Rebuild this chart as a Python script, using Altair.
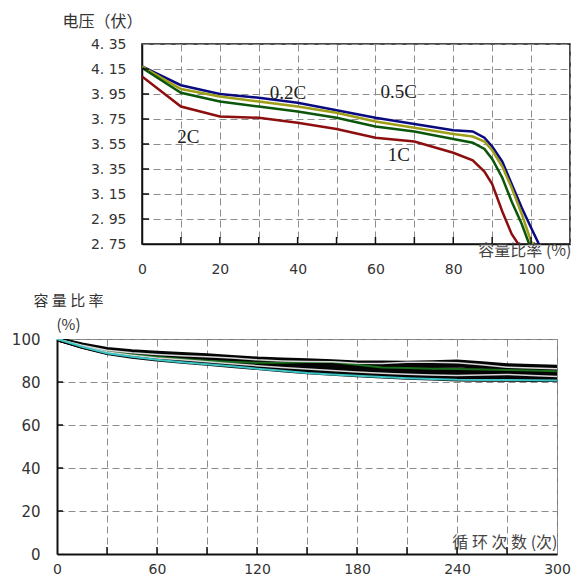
import altair as alt
import pandas as pd

# ---------------- discharge curves (top panel) ----------------
rate_names = ["0.2C", "0.5C", "1C", "2C"]
rate_colors = ["#0a0a80", "#9e9e18", "#0b560b", "#8c0e0e"]

cap_02C = [0, 10, 20, 30, 40, 50, 60, 70, 80, 85, 88, 90, 92.6, 95, 97.6, 100, 102]
volt_02C = [4.17, 4.02, 3.95, 3.92, 3.88, 3.82, 3.76, 3.71, 3.66, 3.65, 3.60, 3.53, 3.41, 3.23, 3.04, 2.88, 2.75]
cap_05C = [0, 10, 20, 30, 40, 50, 60, 70, 80, 85, 88, 90, 92.6, 95, 97.6, 100, 100.5]
volt_05C = [4.17, 3.99, 3.93, 3.89, 3.85, 3.80, 3.73, 3.68, 3.63, 3.61, 3.57, 3.50, 3.37, 3.20, 2.99, 2.77, 2.75]
cap_1C = [0, 10, 20, 30, 40, 50, 60, 70, 80, 85, 88, 90, 92.6, 95, 97.6, 99.5]
volt_1C = [4.16, 3.96, 3.89, 3.85, 3.81, 3.76, 3.69, 3.65, 3.59, 3.56, 3.51, 3.43, 3.28, 3.09, 2.91, 2.75]
cap_2C = [0, 5, 10, 20, 30, 40, 50, 60, 70, 80, 85, 88, 90, 92.6, 95, 96.7]
volt_2C = [4.09, 3.97, 3.85, 3.77, 3.76, 3.72, 3.67, 3.60, 3.57, 3.48, 3.42, 3.33, 3.23, 3.01, 2.83, 2.75]

label_text = ["0.2C", "0.5C", "2C", "1C"]
label_cap = [37.5, 66.0, 11.9, 66.0]
label_volt = [3.96, 3.97, 3.61, 3.46]

cap_ticks = list(range(0, 111, 10))
volt_ticks = [2.75, 2.95, 3.15, 3.35, 3.55, 3.75, 3.95, 4.15, 4.35]

# ---------------- cycle life (bottom panel) ----------------
cycles = [0, 15, 30, 45, 60, 75, 90, 105, 120, 135, 150, 165, 180, 195, 210, 225, 240, 255, 270, 285, 300]
cell_names = ["A", "B", "C", "D", "E", "F", "G", "H", "I", "J"]
cell_style = ["black", "black", "black", "black", "black", "black", "green", "light", "light", "cyan"]
cell_A = [100, 97.3, 95.2, 94.2, 93.5, 92.9, 92.3, 91.5, 90.8, 90.4, 90.0, 89.5, 89.0, 88.9, 88.8, 89.1, 89.4, 88.6, 87.7, 87.3, 87.0]
cell_B = [100, 97.0, 94.7, 93.5, 92.6, 91.9, 91.2, 90.5, 89.8, 89.2, 88.6, 88.2, 87.9, 87.7, 87.5, 87.6, 87.8, 87.2, 86.5, 86.0, 85.8]
cell_C = [100, 96.9, 94.4, 93.0, 92.0, 91.2, 90.4, 89.6, 88.8, 88.0, 87.3, 86.9, 86.6, 86.3, 86.0, 85.8, 85.6, 85.3, 85.0, 84.7, 84.4]
cell_D = [100, 96.7, 94.1, 92.6, 91.5, 90.6, 89.7, 88.8, 88.0, 87.1, 86.3, 85.8, 85.3, 85.0, 84.6, 84.3, 84.0, 83.8, 83.6, 83.4, 83.3]
cell_E = [100, 96.6, 93.8, 92.2, 91.0, 90.0, 89.0, 88.0, 87.2, 86.2, 85.4, 84.8, 84.2, 83.8, 83.4, 83.0, 82.6, 82.6, 82.5, 82.5, 82.5]
cell_F = [100, 96.5, 93.6, 91.9, 90.6, 89.5, 88.6, 87.6, 86.6, 85.6, 84.6, 83.9, 83.3, 82.7, 82.1, 81.7, 81.3, 81.2, 81.2, 81.1, 81.0]
cell_G = [100, 96.8, 94.2, 92.7, 91.6, 90.7, 89.9, 89.3, 88.9, 88.9, 89.3, 89.3, 88.0, 86.8, 86.5, 86.2, 86.0, 85.8, 85.6, 85.3, 85.0]
cell_H = [100, 97.1, 94.8, 93.6, 92.8, 92.2, 91.8, 91.2, 90.3, 89.8, 89.5, 89.4, 88.7, 88.6, 89.2, 89.2, 88.9, 88.0, 86.9, 86.5, 86.2]
cell_I = [100, 96.7, 94.0, 92.4, 91.2, 90.3, 89.4, 88.5, 87.6, 86.8, 86.0, 85.3, 84.6, 84.1, 83.6, 83.3, 83.0, 83.3, 83.5, 83.0, 82.5]
cell_J = [100, 96.4, 93.4, 91.7, 90.3, 89.2, 88.3, 87.3, 86.2, 85.2, 84.2, 83.5, 82.9, 82.3, 81.8, 81.4, 81.0, 80.9, 80.9, 80.8, 80.7]

cycle_ticks = list(range(0, 301, 30))
ratio_ticks = [0, 20, 40, 60, 80, 100]

# ---------------- tables ----------------
rows = []
for name, xs, vs in zip(rate_names, [cap_02C, cap_05C, cap_1C, cap_2C],
                        [volt_02C, volt_05C, volt_1C, volt_2C]):
    for i, (x, v) in enumerate(zip(xs, vs)):
        rows.append({"rate": name, "cap": x, "volt": v, "i": i})
top_df = pd.DataFrame(rows)
lab_df = pd.DataFrame({"txt": label_text, "cap": label_cap, "volt": label_volt})

rows = []
all_cells = [cell_A, cell_B, cell_C, cell_D, cell_E, cell_F, cell_G, cell_H, cell_I, cell_J]
for name, st, vals in zip(cell_names, cell_style, all_cells):
    for i, (c, v) in enumerate(zip(cycles, vals)):
        rows.append({"cell": name, "style": st, "cycle": c, "ratio": v, "i": i})
bot_df = pd.DataFrame(rows)

CJK = "Noto Sans CJK SC"
LBL = "DejaVu Sans"
WT, HT = 428, 200
WB, HB = 500, 215

x_top = alt.X("cap:Q", scale=alt.Scale(domain=[0, 110], nice=False, zero=False),
              axis=alt.Axis(values=cap_ticks, labelFlush=False,
                            labelExpr="datum.value % 20 == 0 && datum.value <= 100 ? datum.label : ''",
                            labelPadding=18, labelFontSize=14,
                            title="容量比率 (%)", titleFont=CJK, titleFontSize=16,
                            titleAlign="right", titleX=WT + 1, titleY=14,
                            titleBaseline="bottom", titleColor="#444"))
y_top = alt.Y("volt:Q", scale=alt.Scale(domain=[2.75, 4.35], nice=False, zero=False),
              axis=alt.Axis(values=volt_ticks,
                            labelExpr="replace(format(datum.value, '.2f'), '.', '. ')",
                            labelPadding=16, labelFontSize=14,
                            title="电压（伏）", titleFont=CJK, titleFontSize=16,
                            titleAngle=0, titleAlign="left", titleBaseline="top",
                            titleX=-80, titleY=-31, titleColor="#333"))

top_lines = alt.Chart(top_df).mark_line(strokeWidth=2.5, clip=True).encode(
    x=x_top, y=y_top,
    color=alt.Color("rate:N", scale=alt.Scale(domain=rate_names, range=rate_colors), legend=None),
    order="i:Q")
top_labels = alt.Chart(lab_df).mark_text(font="Liberation Serif", fontSize=19, color="#222",
                                         align="center", baseline="middle").encode(
    x=x_top, y=y_top, text="txt:N")
top_xt = alt.Chart(pd.DataFrame({"cap": cap_ticks[1:-1]})).mark_rule(color="#111", strokeWidth=1.5).encode(
    x=x_top, y=alt.value(HT), y2=alt.value(HT - 7))
top_yt = alt.Chart(pd.DataFrame({"volt": volt_ticks[1:-1]})).mark_rule(color="#111", strokeWidth=1.5).encode(
    y=y_top, x=alt.value(0), x2=alt.value(7))

top = alt.layer(top_lines, top_xt, top_yt, top_labels).properties(
    width=WT, height=HT, view=alt.ViewBackground(stroke="#111", strokeWidth=1.5))

x_bot = alt.X("cycle:Q", scale=alt.Scale(domain=[0, 300], nice=False, zero=False),
              axis=alt.Axis(values=cycle_ticks, labelFlush=False,
                            labelExpr="datum.value % 60 == 0 ? datum.label : ''",
                            labelPadding=8, labelFontSize=14, domainWidth=2,
                            title="循 环 次 数 (次)", titleFont=CJK, titleFontSize=16,
                            titleAlign="right", titleX=WB, titleY=-4,
                            titleBaseline="bottom", titleColor="#444"))
y_bot = alt.Y("ratio:Q", scale=alt.Scale(domain=[0, 100], nice=False, zero=False),
              axis=alt.Axis(values=ratio_ticks, labelPadding=17, labelFontSize=15, domainWidth=2,
                            title=["容 量 比 率", "(%)"], titleFont=CJK, titleFontSize=15,
                            titleLineHeight=24,
                            titleAngle=0, titleAlign="center", titleBaseline="top",
                            titleX=11, titleY=-46, titleColor="#333"))

def bot_layer(style, color, width):
    return alt.Chart(bot_df).transform_filter(alt.datum.style == style).mark_line(
        strokeWidth=width, color=color, clip=True).encode(
        x=x_bot, y=y_bot, detail="cell:N", order="i:Q")

bot_lines = [bot_layer("black", "#050505", 4.5), bot_layer("green", "#1b6e1b", 2),
             bot_layer("light", "#d8d8d8", 1.5), bot_layer("cyan", "#3cc4c4", 2)]
bot_xt = alt.Chart(pd.DataFrame({"cycle": cycle_ticks[1:-1]})).mark_rule(color="#111", strokeWidth=1.5).encode(
    x=x_bot, y=alt.value(HB), y2=alt.value(HB - 7))
bot_yt = alt.Chart(pd.DataFrame({"ratio": ratio_ticks[1:-1]})).mark_rule(color="#111", strokeWidth=1.5).encode(
    y=y_bot, x=alt.value(0), x2=alt.value(6))

bottom = alt.layer(*bot_lines, bot_xt, bot_yt).properties(
    width=WB, height=HB, view=alt.ViewBackground(stroke="#777", strokeWidth=1))

spacer = alt.Chart(pd.DataFrame({"v": pd.Series([], dtype=float)})).mark_point(opacity=0).properties(
    width=3, height=HT, view=alt.ViewBackground(stroke="transparent"))

chart = alt.vconcat(alt.hconcat(spacer, top, spacing=0), bottom, spacing=15).properties(
    padding={"left": 2, "top": 4, "right": 0, "bottom": 0}
).configure_axis(
    labelFont=LBL, labelColor="#333", titleFontWeight="normal",
    grid=True, gridColor="#8c8c8c", gridDash=[7, 4], gridWidth=1,
    ticks=False, domainColor="#111", domainWidth=1.5
).configure_view(stroke="transparent")

chart.save("out.html", embed_options={"renderer": "svg", "actions": False})
